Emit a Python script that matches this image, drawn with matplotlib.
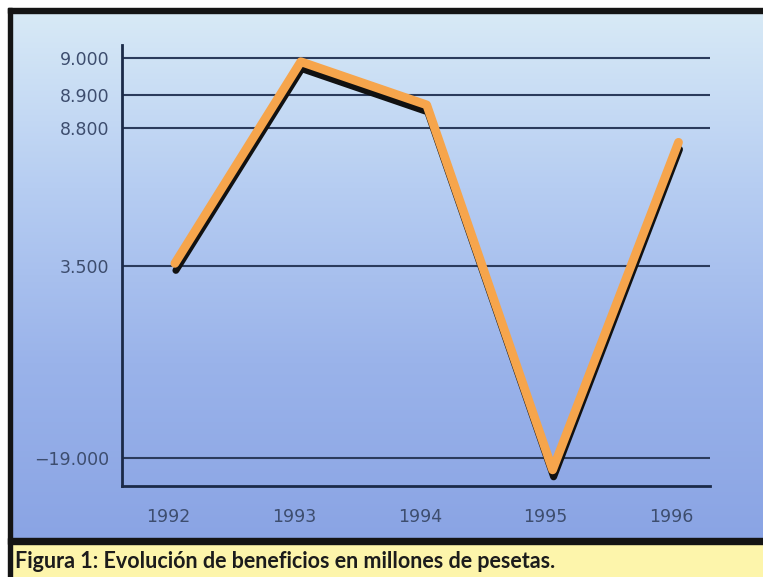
import numpy as np
import matplotlib
matplotlib.use("Agg")
import matplotlib.pyplot as plt
from matplotlib.colors import LinearSegmentedColormap
from matplotlib.transforms import ScaledTranslation
from matplotlib.patches import Rectangle

plt.rcParams["font.family"] = ["DejaVu Sans"]

# data (millones de pesetas)
years = [1992, 1993, 1994, 1995, 1996]
profits = [3600, 8990, 8870, -20400, 8250]
ytick_vals = [9000, 8900, 8800, 3500, -19000]
ytick_labels = ["9.000", "8.900", "8.800", "3.500", "\u221219.000"]
caption = "Figura 1: Evolución de beneficios en millones de pesetas."

# the original axis is not linear: piecewise mapping value -> height (px)
SCALE_VALUES = [-22300, -19000, 3500, 8800, 8900, 9000, 9035]
SCALE_HEIGHTS = [0, 28, 220, 358, 391, 428, 441]


def fwd(v):
    return np.interp(v, SCALE_VALUES, SCALE_HEIGHTS)


def inv(p):
    return np.interp(p, SCALE_HEIGHTS, SCALE_VALUES)


W, H = 763, 577
fig = plt.figure(figsize=(W / 100, H / 100), dpi=100)
fig.patch.set_facecolor("white")

# background: frame, gradient panel, caption bar (pixel coords)
bg = fig.add_axes([0, 0, 1, 1])
bg.set_xlim(0, W)
bg.set_ylim(H, 0)
bg.axis("off")
cmap = LinearSegmentedColormap.from_list("panel", ["#d8eaf6", "#b6cdf2", "#9ab3ea", "#8aa4e4"])
grad = np.linspace(0, 1, 256).reshape(-1, 1)
bg.imshow(grad, cmap=cmap, aspect="auto", extent=[10, W, 540, 11], zorder=0)
bg.add_patch(Rectangle((8, 8), W, 5, color="#141414", zorder=2))
bg.add_patch(Rectangle((8, 8), 4, H, color="#141414", zorder=2))
bg.add_patch(Rectangle((8, 538), W, 6, color="#141414", zorder=2))
bg.add_patch(Rectangle((12, 544), W, H - 544, color="#fdf5ab", zorder=1))
bg.text(15, 561, caption, fontsize=15.5, fontweight="bold", family="Lato",
        color="#1c1c1c", va="center", ha="left", zorder=3)

# main chart
ax = fig.add_axes([122 / W, 1 - 486 / H, (710 - 122) / W, (486 - 45) / H])
ax.set_facecolor("none")
ax.set_yscale("function", functions=(fwd, inv))
ax.set_ylim(SCALE_VALUES[0], SCALE_VALUES[-1])
ax.set_xlim(1991.58, 1996.25)

for v in ytick_vals:
    ax.axhline(v, color="#2b3b5c", lw=1.5, zorder=1)

shadow = ax.transData + ScaledTranslation(1 / 100, -7 / 100, fig.dpi_scale_trans)
ax.plot(years, profits, color="#111111", lw=5, solid_capstyle="round",
        solid_joinstyle="round", transform=shadow, zorder=2)
ax.plot(years, profits, color="#f6a54c", lw=6.3, solid_capstyle="round",
        solid_joinstyle="round", zorder=3)

ax.set_yticks(ytick_vals)
ax.set_yticklabels(ytick_labels)
ax.set_xticks(years)
ax.set_xticklabels([str(y) for y in years])
ax.minorticks_off()
ax.tick_params(axis="both", length=0, labelsize=12.5, labelcolor="#3d4d6e")
ax.tick_params(axis="y", pad=9)
ax.tick_params(axis="x", pad=16)
for lab in ax.get_xticklabels():
    lab.set_transform(lab.get_transform() + ScaledTranslation(-7 / 100, 0, fig.dpi_scale_trans))

for side in ["top", "right"]:
    ax.spines[side].set_visible(False)
for side in ["left", "bottom"]:
    ax.spines[side].set_color("#1b2a48")
    ax.spines[side].set_linewidth(2)

fig.savefig("out.png", dpi=100)
